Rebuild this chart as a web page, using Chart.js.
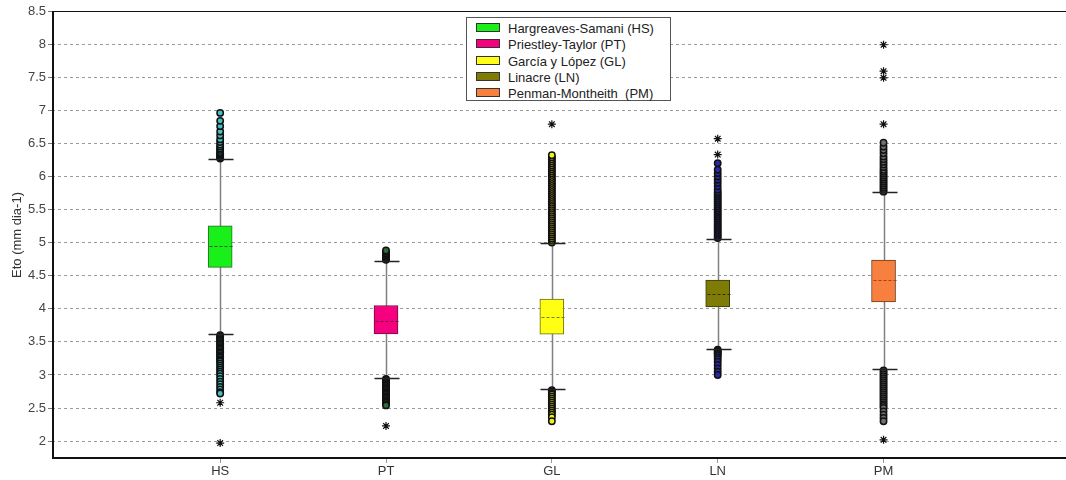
<!DOCTYPE html>
<html>
<head>
<meta charset="utf-8">
<script src="https://cdn.jsdelivr.net/npm/chart.js@4.4.1/dist/chart.umd.min.js"></script>
<style>
  html, body { margin: 0; padding: 0; background: #fff; }
  #wrap { position: relative; width: 1066px; height: 480px; }
  #legend {
    position: absolute; left: 466px; top: 17px; width: 205px; height: 84px;
    border: 1px solid #555; background: #fff; box-sizing: border-box;
    font-family: "Liberation Sans", Arial, sans-serif; font-size: 13px; color: #222;
    padding: 3px 0 0 9px;
  }
  #legend div { height: 16.3px; line-height: 16px; white-space: pre; }
  #legend span { display: inline-block; width: 22px; height: 7px; border: 1px solid #333; margin-right: 8px; vertical-align: 1px; }
</style>
</head>
<body>
<div id="wrap">
  <canvas id="chart" width="1066" height="480"></canvas>
  <div id="legend"></div>
</div>
<script>
// box plot data (Eto, mm dia-1)
const categories = ['HS', 'PT', 'GL', 'LN', 'PM'];
const methodNames = ['Hargreaves-Samani (HS)', 'Priestley-Taylor (PT)', 'García y López (GL)', 'Linacre (LN)', 'Penman-Montheith  (PM)'];

const q1 = [4.625, 3.62, 3.617, 4.03, 4.105];
const median = [4.947, 3.82, 3.87, 4.23, 4.43];
const q3 = [5.255, 4.05, 4.146, 4.433, 4.736];
const whiskerLow = [3.617, 2.947, 2.79, 3.395, 3.088];
const whiskerHigh = [6.258, 4.725, 4.988, 5.06, 5.76];

const outliersHS = [6.27, 6.29, 6.3, 6.31, 6.33, 6.35, 6.37, 6.4, 6.42, 6.45, 6.48, 6.52, 6.56, 6.62, 6.68, 6.76, 6.84, 6.96,
  3.6, 3.58, 3.56, 3.54, 3.52, 3.5, 3.48, 3.46, 3.44, 3.42, 3.4, 3.38, 3.36, 3.34, 3.32, 3.3, 3.28, 3.26, 3.24, 3.22, 3.2,
  3.17, 3.14, 3.11, 3.08, 3.05, 3.02, 2.98, 2.94, 2.9, 2.86, 2.82, 2.78, 2.74, 2.72];
const outliersPT = [4.74, 4.76, 4.78, 4.8, 4.82, 4.84, 4.86, 4.88,
  2.94, 2.92, 2.9, 2.88, 2.86, 2.84, 2.82, 2.8, 2.78, 2.76, 2.74, 2.72, 2.7, 2.68, 2.66, 2.64, 2.62, 2.6, 2.58, 2.56, 2.54];
const outliersGL = [5.0, 5.03, 5.06, 5.09, 5.12, 5.15, 5.18, 5.21, 5.24, 5.27, 5.3, 5.33, 5.36, 5.39, 5.42, 5.45, 5.48, 5.51,
  5.54, 5.57, 5.6, 5.63, 5.66, 5.69, 5.72, 5.75, 5.78, 5.81, 5.84, 5.87, 5.9, 5.93, 5.96, 5.99, 6.02, 6.05, 6.08, 6.11, 6.14,
  6.17, 6.2, 6.23, 6.26, 6.29, 6.32,
  2.77, 2.75, 2.72, 2.7, 2.67, 2.64, 2.61, 2.58, 2.55, 2.52, 2.49, 2.46, 2.43, 2.4, 2.36, 2.3];
const outliersLN = [5.07, 5.1, 5.13, 5.16, 5.19, 5.22, 5.25, 5.28, 5.31, 5.34, 5.37, 5.4, 5.43, 5.46, 5.49, 5.52, 5.55, 5.58,
  5.61, 5.64, 5.67, 5.7, 5.73, 5.76, 5.8, 5.85, 5.9, 5.95, 6.0, 6.05, 6.1, 6.2,
  3.38, 3.36, 3.34, 3.32, 3.3, 3.27, 3.24, 3.2, 3.15, 3.1, 3.05, 3.0];
const outliersPM = [5.77, 5.8, 5.83, 5.86, 5.89, 5.92, 5.95, 5.98, 6.01, 6.04, 6.07, 6.1, 6.14, 6.18, 6.22, 6.26, 6.3, 6.35,
  6.4, 6.45, 6.51,
  3.07, 3.04, 3.01, 2.98, 2.95, 2.92, 2.89, 2.86, 2.83, 2.8, 2.77, 2.74, 2.71, 2.68, 2.65, 2.62, 2.59, 2.56, 2.53, 2.5,
  2.45, 2.4, 2.35, 2.3];
const outliers = [outliersHS, outliersPT, outliersGL, outliersLN, outliersPM];

// extreme values (asterisks)
const extremesHS = [2.58, 1.97];
const extremesPT = [2.23];
const extremesGL = [6.79];
const extremesLN = [6.33, 6.57];
const extremesPM = [6.79, 7.49, 7.59, 7.99, 2.02];
const extremes = [extremesHS, extremesPT, extremesGL, extremesLN, extremesPM];

const yTicks = [2, 2.5, 3, 3.5, 4, 4.5, 5, 5.5, 6, 6.5, 7, 7.5, 8, 8.5];

const boxColors = ['#19f019', '#f5007e', '#ffff14', '#7f7c05', '#f8803f'];
const boxBorders = ['#2a6a2a', '#6a1040', '#6a6a10', '#3a3a10', '#6a3a20'];
const medianColors = ['#2d5a2d', '#7a1040', '#7a7a20', '#303010', '#b03818'];
const outlierColors = ['#45c0c0', '#2f6a3a', '#f0f020', '#2a2aa8', '#707070'];

const boxParts = {
  id: 'boxParts',
  beforeDatasetsDraw(chart) {
    const { ctx, scales: { x, y } } = chart;
    ctx.save();
    ctx.strokeStyle = '#808080';
    ctx.lineWidth = 1.5;
    categories.forEach((c, i) => {
      const px = Math.round(x.getPixelForValue(i + 1)) + 0.5;
      ctx.beginPath();
      ctx.moveTo(px, y.getPixelForValue(whiskerLow[i]));
      ctx.lineTo(px, y.getPixelForValue(whiskerHigh[i]));
      ctx.stroke();
    });
    ctx.restore();
  },
  afterDatasetsDraw(chart) {
    const { ctx, chartArea, scales: { x, y } } = chart;
    ctx.save();
    categories.forEach((c, i) => {
      const px = Math.round(x.getPixelForValue(i + 1)) + 0.5;
      // whisker caps
      ctx.strokeStyle = '#222';
      ctx.lineWidth = 1.5;
      [whiskerLow[i], whiskerHigh[i]].forEach(v => {
        const py = Math.round(y.getPixelForValue(v)) + 0.5;
        ctx.beginPath();
        ctx.moveTo(px - 12, py);
        ctx.lineTo(px + 13, py);
        ctx.stroke();
      });
      // median
      const my = Math.round(y.getPixelForValue(median[i])) + 0.5;
      ctx.strokeStyle = medianColors[i];
      ctx.lineWidth = 1;
      ctx.setLineDash([3, 2]);
      ctx.beginPath();
      ctx.moveTo(px - 11, my);
      ctx.lineTo(px + 12, my);
      ctx.stroke();
      ctx.setLineDash([]);
    });
    // frame (runs off the right edge as in the original)
    ctx.strokeStyle = '#111';
    ctx.lineWidth = 1;
    ctx.beginPath();
    ctx.moveTo(chartArea.left, chartArea.top + 0.5);
    ctx.lineTo(chart.width, chartArea.top + 0.5);
    ctx.stroke();
    ctx.lineWidth = 2;
    ctx.beginPath();
    ctx.moveTo(chartArea.left + 1, chartArea.top);
    ctx.lineTo(chartArea.left + 1, chartArea.bottom - 1);
    ctx.lineTo(chart.width, chartArea.bottom - 1);
    ctx.stroke();
    ctx.restore();
  }
};

const datasets = [];
categories.forEach((c, i) => {
  datasets.push({
    type: 'scatter',
    label: c + ' outliers',
    data: outliers[i].map(v => ({ x: i + 1, y: v })),
    pointStyle: 'circle',
    pointRadius: 3.2,
    backgroundColor: outlierColors[i],
    borderColor: '#111',
    borderWidth: 1.5,
    order: 1
  });
  datasets.push({
    type: 'scatter',
    label: c + ' extremes',
    data: extremes[i].map(v => ({ x: i + 1, y: v })),
    pointStyle: 'star',
    pointRadius: 4,
    borderColor: '#111',
    borderWidth: 1.2,
    order: 1
  });
});
categories.forEach((c, i) => {
  datasets.push({
    type: 'bar',
    label: methodNames[i],
    data: [{ x: i + 1, y: [q1[i], q3[i]] }],
    backgroundColor: boxColors[i],
    borderColor: boxBorders[i],
    borderWidth: 1,
    borderSkipped: false,
    barThickness: 24,
    grouped: false,
    order: 2
  });
});

new Chart(document.getElementById('chart'), {
  type: 'bar',
  data: { datasets: datasets },
  options: {
    responsive: false,
    animation: false,
    layout: { padding: { top: 11, right: 0, left: 0, bottom: 0 } },
    plugins: { legend: { display: false }, tooltip: { enabled: false } },
    scales: {
      x: {
        type: 'linear',
        offset: false,
        min: -0.014,
        max: 6.067,
        afterFit: s => { s.height = 21; },
        afterBuildTicks: s => { s.ticks = categories.map((c, i) => ({ value: i + 1 })); },
        grid: { display: true, drawOnChartArea: false, drawTicks: true, tickLength: 4, color: '#999', offset: false },
        border: { display: false },
        ticks: {
          callback: (v) => categories[v - 1],
          color: '#333',
          padding: 1,
          autoSkip: false,
          maxRotation: 0,
          font: { family: '"Liberation Sans Narrow", "Liberation Sans", Arial, sans-serif', size: 13 }
        }
      },
      y: {
        type: 'linear',
        min: 1.73,
        max: 8.5,
        afterFit: s => { s.width = 52; },
        afterBuildTicks: s => { s.ticks = yTicks.map(v => ({ value: v })); },
        grid: {
          color: '#9a9a9a',
          lineWidth: 1,
          tickLength: 4,
          tickColor: '#777',
          drawOnChartArea: true
        },
        border: { display: false, dash: [3, 3] },
        ticks: {
          color: '#444',
          padding: 2,
          font: { family: '"Liberation Sans", Arial, sans-serif', size: 13 },
          callback: v => String(v)
        },
        title: {
          display: true,
          text: 'Eto (mm dia-1)',
          color: '#333',
          padding: { top: 10, bottom: 0 },
          font: { family: '"Liberation Sans", Arial, sans-serif', size: 13 }
        }
      }
    }
  },
  plugins: [boxParts]
});

// legend box inside plot area
const legendBox = document.getElementById('legend');
methodNames.forEach((name, i) => {
  const row = document.createElement('div');
  const sw = document.createElement('span');
  sw.style.background = boxColors[i];
  row.appendChild(sw);
  row.appendChild(document.createTextNode(name));
  legendBox.appendChild(row);
});
</script>
</body>
</html>
